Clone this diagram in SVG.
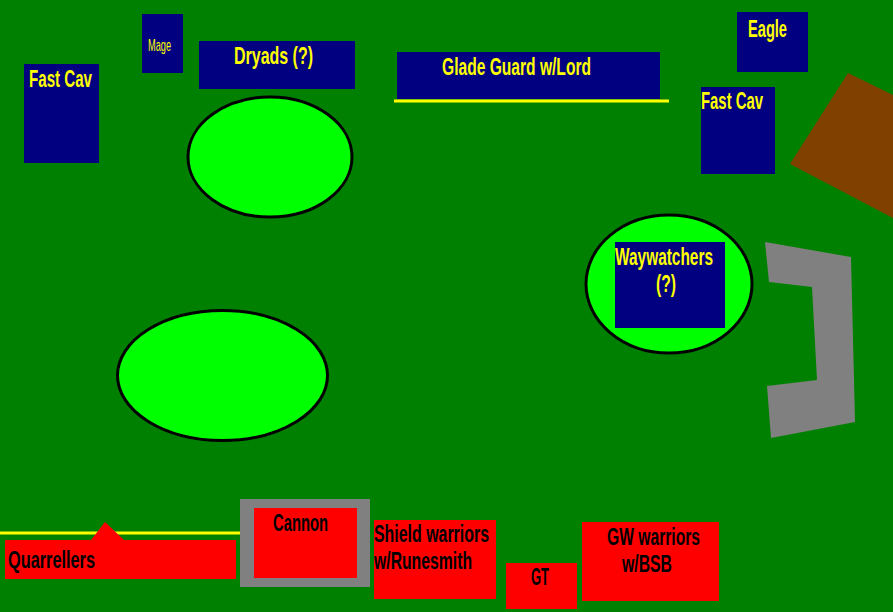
<svg xmlns="http://www.w3.org/2000/svg" width="893" height="612" viewBox="0 0 893 612">
<style>
.blue{fill:#000080}
.red{fill:#ff0000}
.hill{fill:#00ff00;stroke:#000;stroke-width:3}
.yt{fill:#ffff00;font-family:"Liberation Sans",Arial,sans-serif;font-size:24px;font-weight:bold}
.bt{fill:#000;font-family:"Liberation Sans",Arial,sans-serif;font-size:23px;font-weight:bold}
.ln{stroke:#ffff00;stroke-width:3}
</style>
<rect x="0" y="0" width="893" height="612" fill="#008000"/>
<g id="terrain">
<ellipse class="hill" cx="270" cy="157" rx="82" ry="60"/>
<ellipse class="hill" cx="222.5" cy="375.5" rx="105" ry="65"/>
<ellipse class="hill" cx="669" cy="284" rx="83" ry="69"/>
<polygon points="848,73 893,95 893,218 790,164" fill="#804000"/>
<polygon points="765,242 851,257 855,422 771,438 767,386 817,380 812,287 769,282" fill="#808080"/>
</g>
<g id="connectors">
<line class="ln" x1="394" y1="101" x2="669" y2="101"/>
<line class="ln" x1="0" y1="533" x2="240" y2="533"/>
</g>
<g id="fastcav-left"><rect class="blue" x="24" y="64" width="75" height="99"/><text class="yt" x="29" y="87" textLength="63" lengthAdjust="spacingAndGlyphs">Fast Cav</text></g>
<g id="mage"><rect class="blue" x="142" y="14" width="41" height="59"/><text class="yt" x="148" y="51" style="font-size:17px;font-weight:normal" textLength="23" lengthAdjust="spacingAndGlyphs">Mage</text></g>
<g id="dryads"><rect class="blue" x="199" y="41" width="156" height="48"/><text class="yt" x="234" y="64" textLength="79" lengthAdjust="spacingAndGlyphs">Dryads (?)</text></g>
<g id="gladeguard"><rect class="blue" x="397" y="52" width="263" height="47"/><text class="yt" x="442" y="75" textLength="149" lengthAdjust="spacingAndGlyphs">Glade Guard w/Lord</text></g>
<g id="eagle"><rect class="blue" x="737" y="12" width="71" height="60"/><text class="yt" x="748" y="37" textLength="39" lengthAdjust="spacingAndGlyphs">Eagle</text></g>
<g id="fastcav-right"><rect class="blue" x="701" y="87" width="74" height="87"/><text class="yt" x="701" y="109" textLength="62" lengthAdjust="spacingAndGlyphs">Fast Cav</text></g>
<g id="waywatchers"><rect class="blue" x="615" y="242" width="110" height="86"/><text class="yt" x="615" y="265" textLength="98" lengthAdjust="spacingAndGlyphs">Waywatchers</text><text class="yt" x="656" y="292" textLength="20" lengthAdjust="spacingAndGlyphs">(?)</text></g>
<g id="quarrellers"><polygon class="red" points="5,540 91,540 105,522 124,540 236,540 236,579 5,579"/><text class="bt" x="8" y="568" textLength="87" lengthAdjust="spacingAndGlyphs">Quarrellers</text></g>
<g id="cannon"><rect x="240" y="499" width="130" height="88" fill="#808080"/><rect class="red" x="254" y="508" width="103" height="70"/><text class="bt" x="273" y="531" textLength="55" lengthAdjust="spacingAndGlyphs">Cannon</text></g>
<g id="shield"><rect class="red" x="374" y="520" width="122" height="79"/><text class="bt" x="374" y="542" textLength="115" lengthAdjust="spacingAndGlyphs">Shield warriors</text><text class="bt" x="374" y="569" textLength="98" lengthAdjust="spacingAndGlyphs">w/Runesmith</text></g>
<g id="gt"><rect class="red" x="506" y="563" width="71" height="46"/><text class="bt" x="531" y="585" textLength="18" lengthAdjust="spacingAndGlyphs">GT</text></g>
<g id="gw"><rect class="red" x="582" y="522" width="137" height="79"/><text class="bt" x="607" y="545" textLength="93" lengthAdjust="spacingAndGlyphs">GW warriors</text><text class="bt" x="622" y="572" textLength="50" lengthAdjust="spacingAndGlyphs">w/BSB</text></g>
</svg>
